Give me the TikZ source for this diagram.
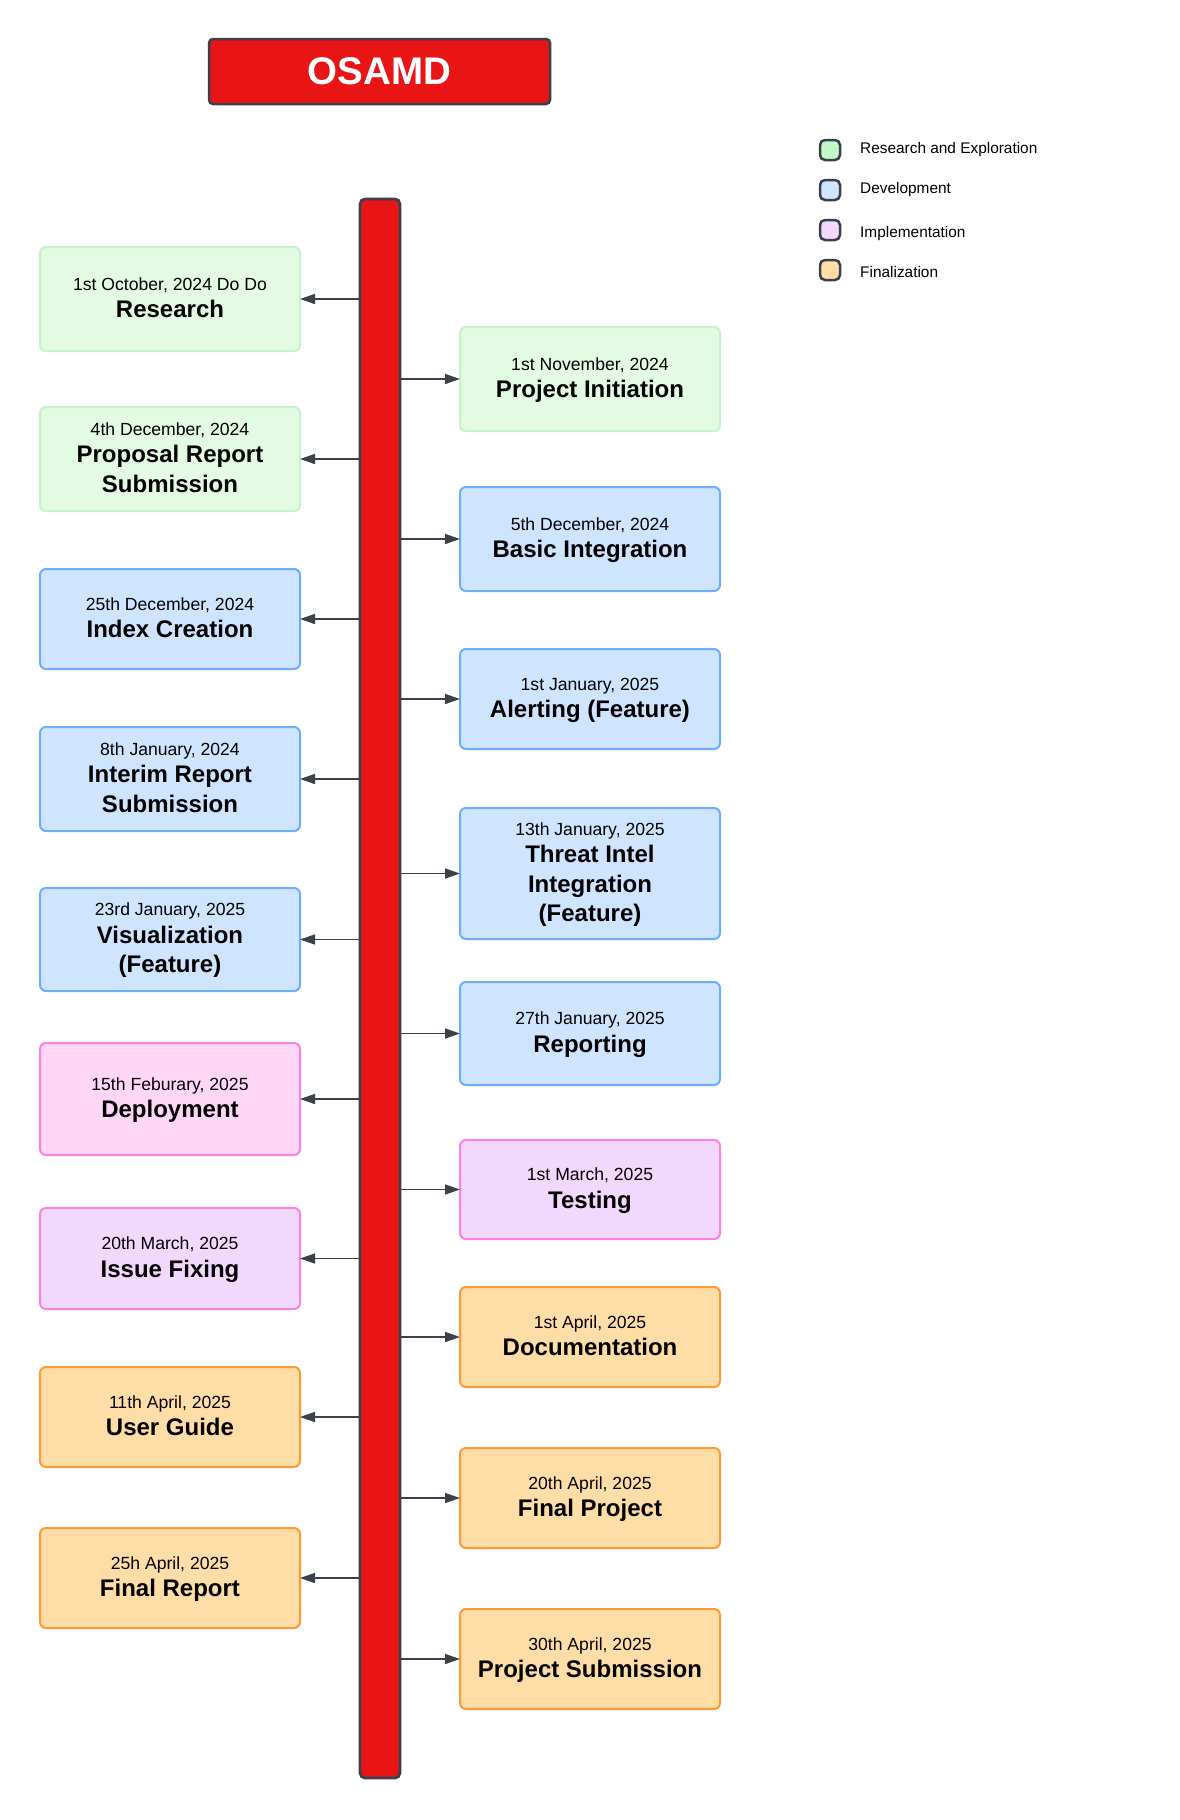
\documentclass[tikz,border=0pt]{standalone}
\usepackage{fontspec}
\setmainfont{Liberation Sans}
\usetikzlibrary{arrows.meta}
\definecolor{barred}{HTML}{E81416}
\definecolor{dark}{HTML}{3A414A}
\definecolor{gfill}{HTML}{E3FAE3}
\definecolor{gline}{HTML}{C3F3C8}
\definecolor{bfill}{HTML}{CFE4FF}
\definecolor{bline}{HTML}{6AAFFF}
\definecolor{pfill}{HTML}{FFD6F5}
\definecolor{vfill}{HTML}{F3D8FD}
\definecolor{pline}{HTML}{FF80DF}
\definecolor{ofill}{HTML}{FFDDA6}
\definecolor{oline}{HTML}{FF9A33}
\definecolor{gleg}{HTML}{C3F7C8}
\newcommand{\dt}[1]{{\mdseries\fontsize{17.6}{21}\selectfont\rule{0pt}{15pt}#1}\\[-2pt]}
\newcommand{\lastl}{\rule[-5.5pt]{0pt}{5.5pt}}
\tikzset{
  ev/.style={draw, rounded corners=6pt, line width=2pt, minimum width=260pt, inner sep=0pt, outer sep=0pt, align=center, font=\bfseries\fontsize{24}{29.5}\selectfont, text=black},
  res/.style={fill=gfill, draw=gline},
  dev/.style={fill=bfill, draw=bline},
  dep/.style={fill=pfill, draw=pline},
  imp/.style={fill=vfill, draw=pline},
  fin/.style={fill=ofill, draw=oline},
  arr/.style={draw=dark, line width=1.5pt, -{Triangle[length=15pt,width=10pt]}},
  legbox/.style={draw=dark, line width=2.5pt, rounded corners=5pt, minimum width=20pt, minimum height=20pt, inner sep=0pt},
  legtext/.style={anchor=base west, font=\fontsize{15.4}{18}\selectfont, text=black, inner sep=0pt}
}
\begin{document}
\begin{tikzpicture}[x=1pt,y=-1pt]
\fill[white] (0,0) rectangle (1180,1820);
\useasboundingbox (0,0) rectangle (1180,1820);

\node[draw=dark, fill=barred, line width=2.5pt, rounded corners=4pt, minimum width=341pt, minimum height=65pt, text=white, font=\bfseries\fontsize{38.5}{40}\selectfont] (title) at (379.5,71.5) {OSAMD};

\node[draw=dark, fill=barred, line width=2.7pt, rounded corners=5pt, minimum width=40pt, minimum height=1579pt, inner sep=0pt] (bar) at (380,988.5) {};

% legend
\node[legbox, fill=gleg] (lg1) at (830,150) {};
\node[legbox, fill=bfill] (lg2) at (830,190) {};
\node[legbox, fill=vfill] (lg3) at (830,230) {};
\node[legbox, fill=ofill] (lg4) at (830,270) {};
\node[legtext] (lt1) at (860,153.5) {Research and Exploration};
\node[legtext] (lt2) at (860,193.5) {Development};
\node[legtext] (lt3) at (860,237) {Implementation};
\node[legtext] (lt4) at (860,277.5) {Finalization};

% left column
\node[ev,res,minimum height=104pt] (L1) at (170,299) {\dt{1st October, 2024 Do Do}Research\lastl};
\node[ev,res,minimum height=104pt] (L2) at (170,459) {\dt{4th December, 2024}Proposal Report\\Submission\lastl};
\node[ev,dev,minimum height=100pt] (L3) at (170,619) {\dt{25th December, 2024}Index Creation\lastl};
\node[ev,dev,minimum height=104pt] (L4) at (170,779) {\dt{8th January, 2024}Interim Report\\Submission\lastl};
\node[ev,dev,minimum height=103pt] (L5) at (170,939.5) {\dt{23rd January, 2025}Visualization\\(Feature)\lastl};
\node[ev,dep,minimum height=112pt] (L6) at (170,1099) {\dt{15th Feburary, 2025}Deployment\lastl};
\node[ev,imp,minimum height=101pt] (L7) at (170,1258.5) {\dt{20th March, 2025}Issue Fixing\lastl};
\node[ev,fin,minimum height=100pt] (L8) at (170,1417) {\dt{11th April, 2025}User Guide\lastl};
\node[ev,fin,minimum height=100pt] (L9) at (170,1578) {\dt{25h April, 2025}Final Report\lastl};

% right column
\node[ev,res,minimum height=104pt] (R1) at (590,379) {\dt{1st November, 2024}Project Initiation\lastl};
\node[ev,dev,minimum height=104pt] (R2) at (590,539) {\dt{5th December, 2024}Basic Integration\lastl};
\node[ev,dev,minimum height=100pt] (R3) at (590,699) {\dt{1st January, 2025}Alerting (Feature)\lastl};
\node[ev,dev,minimum height=131pt] (R4) at (590,873.5) {\dt{13th January, 2025}Threat Intel\\Integration\\(Feature)\lastl};
\node[ev,dev,minimum height=103pt] (R5) at (590,1033.5) {\dt{27th January, 2025}Reporting\lastl};
\node[ev,imp,minimum height=99pt] (R6) at (590,1189.5) {\dt{1st March, 2025}Testing\lastl};
\node[ev,fin,minimum height=100pt] (R7) at (590,1337) {\dt{1st April, 2025}Documentation\lastl};
\node[ev,fin,minimum height=100pt] (R8) at (590,1498) {\dt{20th April, 2025}Final Project\lastl};
\node[ev,fin,minimum height=100pt] (R9) at (590,1659) {\dt{30th April, 2025}Project Submission\lastl};

% connectors
\foreach \n in {L1,L2,L3,L4,L5,L6,L7,L8,L9}
  \draw[arr] (bar.west |- \n.east) -- (\n.east);
\foreach \n in {R1,R2,R3,R4,R5,R6,R7,R8,R9}
  \draw[arr] (bar.east |- \n.west) -- (\n.west);
\end{tikzpicture}
\end{document}
